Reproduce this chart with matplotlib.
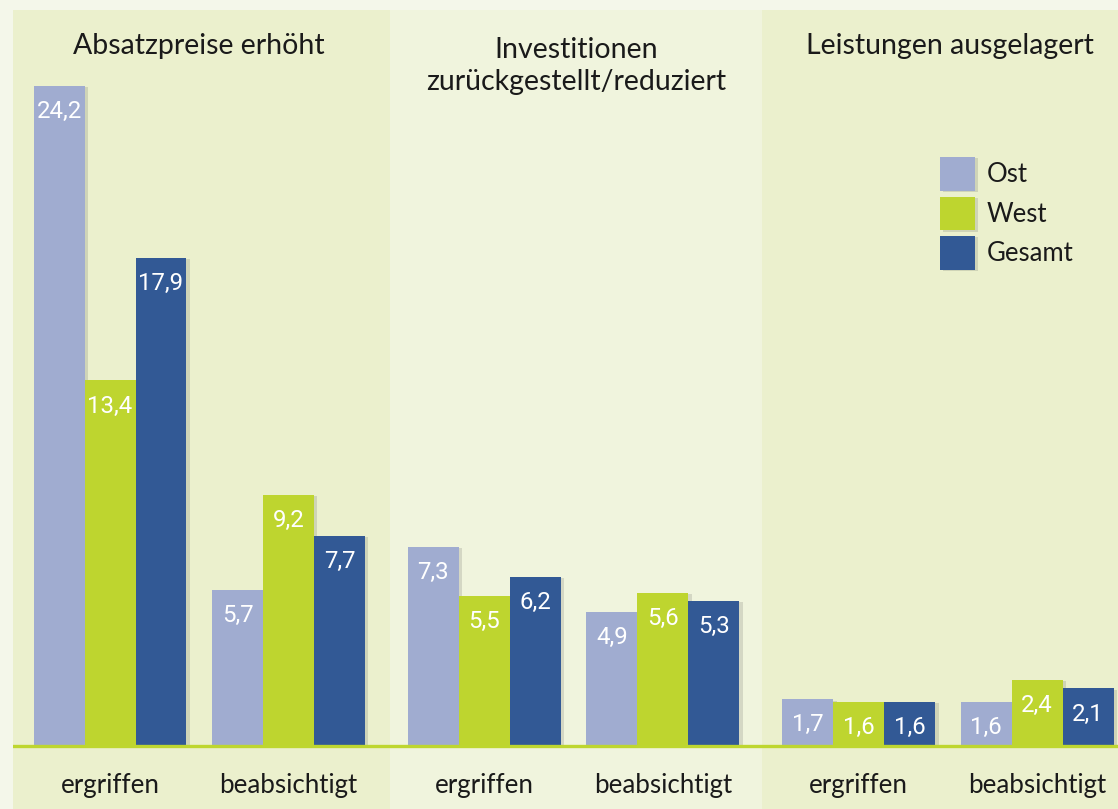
import matplotlib
matplotlib.use('Agg')
import matplotlib.pyplot as plt
import matplotlib.patheffects as pe

# Daten
categories = ['Absatzpreise erhöht', 'Investitionen\nzurückgestellt/reduziert', 'Leistungen ausgelagert']
subgroups = ['ergriffen', 'beabsichtigt']
series = ['Ost', 'West', 'Gesamt']
ost = [24.2, 5.7, 7.3, 4.9, 1.7, 1.6]
west = [13.4, 9.2, 5.5, 5.6, 1.6, 2.4]
gesamt = [17.9, 7.7, 6.2, 5.3, 1.6, 2.1]

colors = ['#a0acd0', '#bed52f', '#325995']
bg_outer = '#f4f7ea'
bg_panel = '#ebf0cd'
bg_panel_light = '#f0f4dd'
text_col = '#1a1a1a'

plt.rcParams['font.family'] = ['Lato', 'DejaVu Sans']

fig = plt.figure(figsize=(11.18, 8.09), dpi=100, facecolor=bg_outer)
ax = fig.add_axes([13 / 1118, 0, 1105 / 1118, 799 / 809])
ax.set_facecolor(bg_panel)

# Positionen der Gruppen (Einheit = Balkenbreite)
cat_pitch = 7.34
sub_pitch = 3.5
centers = []
for i in range(len(categories)):
    for j in range(len(subgroups)):
        centers.append(i * cat_pitch + j * sub_pitch)

ax.set_xlim(-1.902, 19.765)
ax.set_ylim(-2.33, 26.99)

# mittleres Feld heller
ax.axvspan(5.49, 12.784, color=bg_panel_light, zorder=0, lw=0)

shadow = [pe.SimplePatchShadow(offset=(2.5, -1), alpha=0.18, shadow_rgbFace='#555555'), pe.Normal()]

all_values = [ost, west, gesamt]
for k, (name, vals) in enumerate(zip(series, all_values)):
    xs = [c + (k - 1) for c in centers]
    bars = ax.bar(xs, vals, width=1.0, color=colors[k], label=name, zorder=3, lw=0)
    for b in bars:
        b.set_path_effects(shadow)
    for x, v in zip(xs, vals):
        ax.annotate(f'{v:.1f}'.replace('.', ','), (x, v), xytext=(0, -18.5),
                    textcoords='offset points', ha='center', va='center',
                    color='white', fontsize=17.3,
                    family=['Roboto', 'DejaVu Sans'], zorder=4)

# Grundlinie
ax.axhline(0, color='#bed62f', lw=2.4, zorder=5)

# Beschriftungen unten
for c, lab in zip(centers, subgroups * len(categories)):
    ax.text(c, -1.743, lab, ha='center', va='baseline', fontsize=18.6, color=text_col)

# Überschriften
title_x = [1.75, 9.14, 16.47]
title_y = [25.38, 24.06, 25.38]
for tx, ty, cat in zip(title_x, title_y, categories):
    ax.text(tx, ty, cat, ha='center', va='baseline', fontsize=20.5,
            color=text_col, linespacing=1.3)

ax.legend(frameon=False, fontsize=18.5, loc='upper left',
          bbox_to_anchor=(940 / 1118, 1 - 157 / 809), bbox_transform=fig.transFigure,
          handlelength=1.36, handleheight=1.65, labelspacing=0.22, handletextpad=0.45,
          borderpad=0, borderaxespad=0, labelcolor=text_col)

ax.set_xticks([])
ax.set_yticks([])
for s in ax.spines.values():
    s.set_visible(False)
fig.savefig('out.png', dpi=100, facecolor=bg_outer)
